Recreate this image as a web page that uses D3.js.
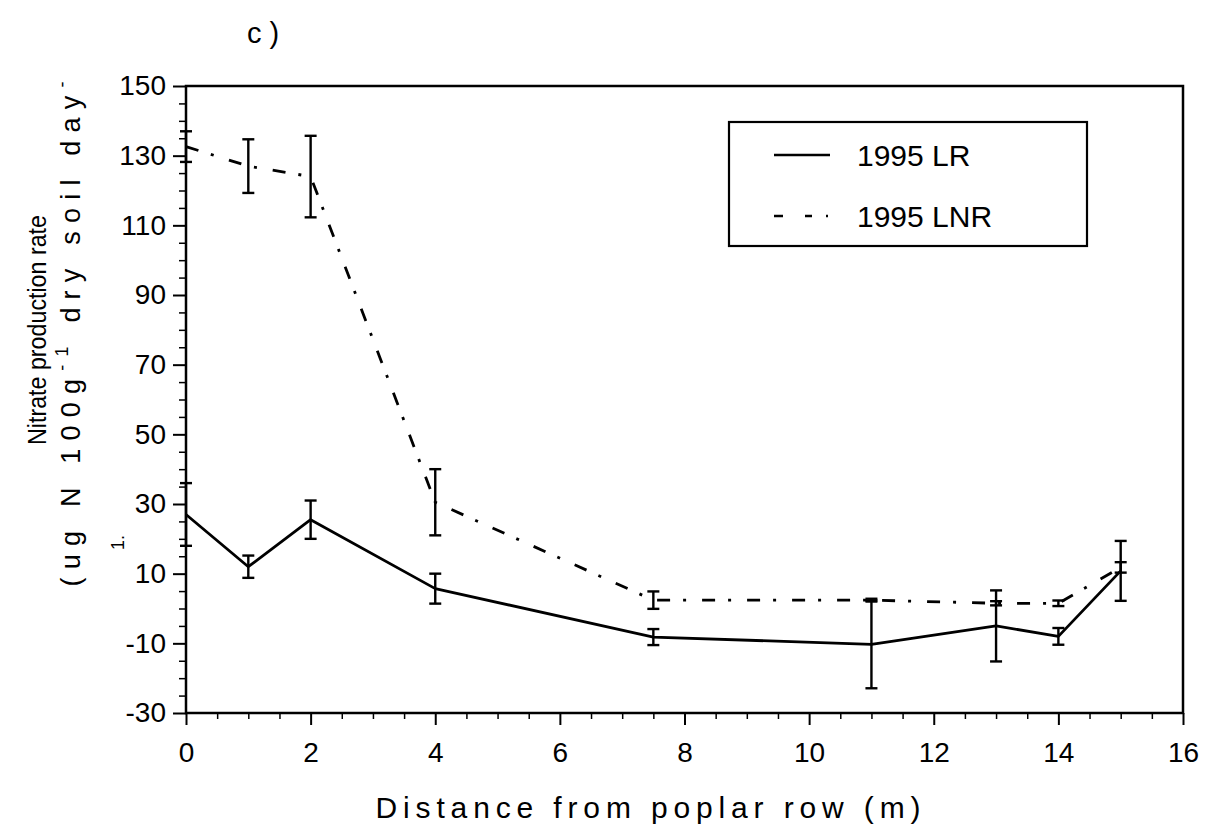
<!DOCTYPE html>
<html>
<head>
<meta charset="utf-8">
<script src="https://cdn.jsdelivr.net/npm/d3@7"></script>
<style>
  html, body { margin: 0; padding: 0; background: #fff; }
  svg { display: block; }
  text { font-family: "Liberation Sans", Arial, sans-serif; fill: #000; }
</style>
</head>
<body>
<svg id="chart" width="1205" height="831"></svg>
<script>
// ---- data ----
const distances = [0, 1, 2, 4, 7.5, 11, 13, 14, 15];
const lrMean  = [27, 12, 25.5, 5.7, -8.2, -10.3, -5, -8, 10.8];
const lrErr   = [9, 3.2, 5.5, 4.3, 2.3, 12.6, 10.2, 2.4, 8.6];
const lnrMean = [132.6, 127, 124, 30.5, 2.4, 2.4, 1.5, 1.5, 11.8];
const lnrErr  = [4.4, 7.7, 11.7, 9.5, 2.5, 0.4, 0.6, 0.8, 1.5];
const xTicks = [0, 2, 4, 6, 8, 10, 12, 14, 16];
const yTicks = [-30, -10, 10, 30, 50, 70, 90, 110, 130, 150];
const seriesNames = ["1995 LR", "1995 LNR"];

// ---- layout ----
const svg = d3.select("#chart");
const L = 186, R = 1183, T = 86, B = 713;
const FONT = '"Liberation Sans", Arial, sans-serif';
const x = d3.scaleLinear().domain([0, 16]).range([L, R]);
const y = d3.scaleLinear().domain([-30, 150]).range([B, T]);
const dashDot = "13,13,3,16";

// frame
svg.append("rect").attr("x", L).attr("y", T).attr("width", R - L).attr("height", B - T)
  .attr("fill", "none").attr("stroke", "#000").attr("stroke-width", 2.5);

// x axis
const xAxis = d3.axisBottom(x).tickValues(xTicks).tickSize(12)
  .tickFormat(d => String(d));
const gx = svg.append("g").attr("transform", `translate(0,${B})`).call(xAxis);
gx.select(".domain").remove();
gx.selectAll(".tick line").attr("stroke-width", 2);
gx.selectAll(".tick text").attr("font-size", 28).attr("y", 29).attr("dy", "0.71em")
  .style("font-family", FONT);
const xMinor = d3.axisBottom(x).tickValues(d3.range(0.5, 16, 1).concat(d3.range(1, 16, 2)))
  .tickSize(6).tickFormat("");
const gxm = svg.append("g").attr("transform", `translate(0,${B})`).call(xMinor);
gxm.select(".domain").remove();
gxm.selectAll(".tick line").attr("stroke-width", 1.5);

// y axis
const yAxis = d3.axisLeft(y).tickValues(yTicks).tickSize(13).tickPadding(7)
  .tickFormat(d => String(d));
const gy = svg.append("g").attr("transform", `translate(${L},0)`).call(yAxis);
gy.select(".domain").remove();
gy.selectAll(".tick line").attr("stroke-width", 2);
gy.selectAll(".tick text").attr("font-size", 28).style("font-family", FONT);
const yMinorVals = d3.range(-25, 150, 5).filter(v => ((v + 30) % 20) !== 0);
const yMinor = d3.axisLeft(y).tickValues(yMinorVals).tickSize(7).tickFormat("");
const gym = svg.append("g").attr("transform", `translate(${L},0)`).call(yMinor);
gym.select(".domain").remove();
gym.selectAll(".tick line").attr("stroke-width", 1.5);

// series
const lrData = distances.map((d, i) => ({ d, m: lrMean[i], e: lrErr[i] }));
const lnrData = distances.map((d, i) => ({ d, m: lnrMean[i], e: lnrErr[i] }));
const line = d3.line().x(p => x(p.d)).y(p => y(p.m));

svg.append("path").datum(lrData).attr("d", line).attr("fill", "none")
  .attr("stroke", "#000").attr("stroke-width", 2.8).attr("stroke-linejoin", "round");
svg.append("path").datum(lnrData).attr("d", line).attr("fill", "none")
  .attr("stroke", "#000").attr("stroke-width", 2.8).attr("stroke-dasharray", dashDot);

function errorBars(data) {
  const g = svg.append("g").attr("stroke", "#000").attr("stroke-width", 2.4);
  data.forEach(p => {
    const cx = x(p.d), y1 = y(p.m + p.e), y2 = y(p.m - p.e);
    g.append("line").attr("x1", cx).attr("x2", cx).attr("y1", y1).attr("y2", y2);
    g.append("line").attr("x1", cx - 6).attr("x2", cx + 6).attr("y1", y1).attr("y2", y1);
    g.append("line").attr("x1", cx - 6).attr("x2", cx + 6).attr("y1", y2).attr("y2", y2);
  });
}
errorBars(lrData);
errorBars(lnrData);

// legend
const lg = svg.append("g");
lg.append("rect").attr("x", 729).attr("y", 122).attr("width", 358).attr("height", 124)
  .attr("fill", "#fff").attr("stroke", "#000").attr("stroke-width", 2.2);
const legY = [155, 216];
lg.append("line").attr("x1", 774).attr("x2", 830).attr("y1", legY[0]).attr("y2", legY[0])
  .attr("stroke", "#000").attr("stroke-width", 2.4);
lg.append("line").attr("x1", 774).attr("x2", 830).attr("y1", legY[1]).attr("y2", legY[1])
  .attr("stroke", "#000").attr("stroke-width", 2.4).attr("stroke-dasharray", "9,22,7,14,2,20");
seriesNames.forEach((s, i) => {
  lg.append("text").attr("x", 857).attr("y", legY[i]).attr("dy", "0.36em")
    .attr("font-size", 30).text(s);
});

// panel label
svg.append("text").attr("x", 247).attr("y", 43).attr("font-size", 29).text("c )");

// x title
svg.append("text").attr("x", 648).attr("y", 818).attr("text-anchor", "middle")
  .attr("font-size", 30).attr("textLength", 545).attr("lengthAdjust", "spacing")
  .text("Distance from poplar row (m)");

// y title line 1
svg.append("text").attr("transform", "translate(46,330) rotate(-90)")
  .attr("text-anchor", "middle").attr("font-size", 25)
  .attr("textLength", 230).attr("lengthAdjust", "spacingAndGlyphs")
  .text("Nitrate production rate");

// y title line 2
const t2 = svg.append("text").attr("transform", "translate(80,334) rotate(-90)")
  .attr("text-anchor", "middle").attr("font-size", 27)
  .attr("textLength", 505).attr("lengthAdjust", "spacing");
t2.append("tspan").text("(ug N 100g");
t2.append("tspan").attr("dy", -12).attr("font-size", 18).text("-1");
t2.append("tspan").attr("dy", 12).text(" dry soil day");
t2.append("tspan").attr("dy", -12).attr("font-size", 18).text("-");

// stray superscript fragment
svg.append("text").attr("transform", "translate(124,550) rotate(-90)")
  .attr("font-size", 18).text("1.");
</script>
</body>
</html>
